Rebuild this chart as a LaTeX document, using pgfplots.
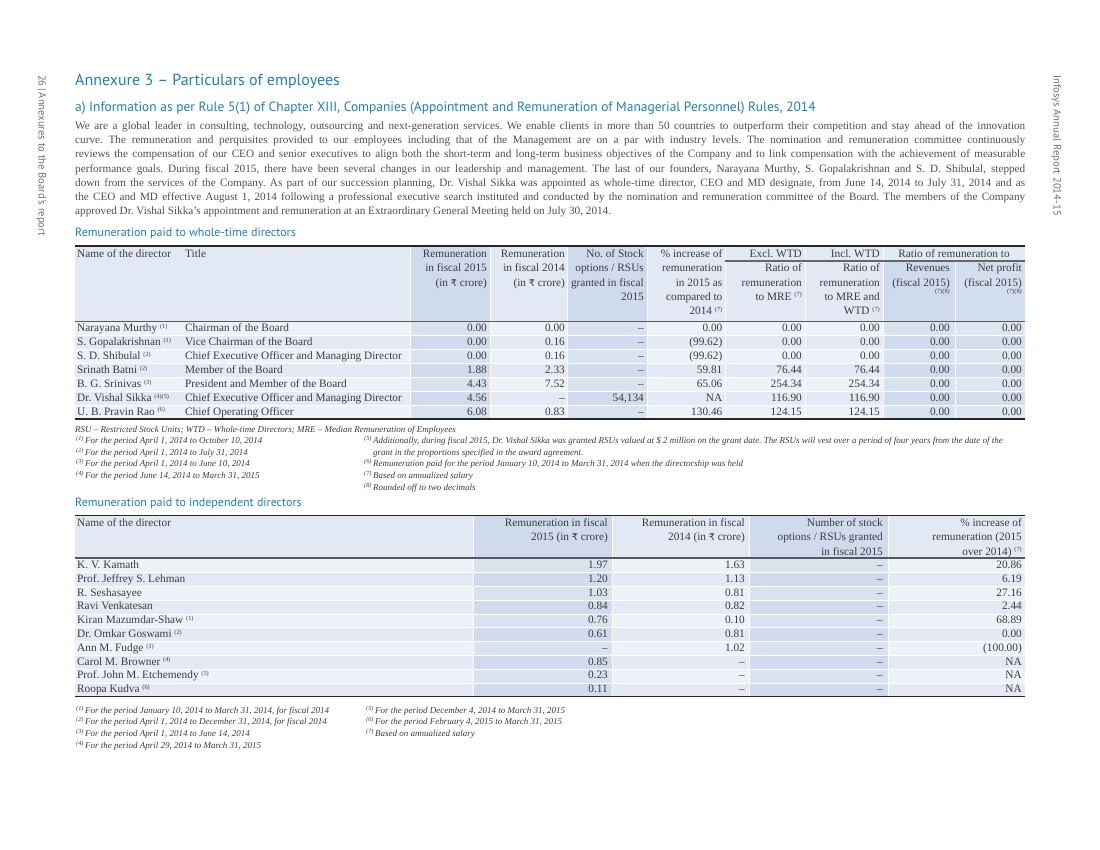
\documentclass[border=0pt]{standalone}
\usepackage{fontspec}
\setmainfont{Liberation Serif}
\newfontfamily\headfont{PT Sans}
\newfontfamily\rupeefont{DejaVu Sans}
\usepackage{pgfplots}
\usepackage{pgfplotstable}
\pgfplotsset{compat=1.18}
\frenchspacing
\definecolor{infblue}{HTML}{1A80C4}
\definecolor{bodytxt}{HTML}{505050}
\definecolor{tabtxt}{HTML}{3C3C3C}
\definecolor{sidetxt}{HTML}{707070}
\definecolor{hdrL}{HTML}{E2E9F4}
\definecolor{rowA}{HTML}{EDF2F9}
\definecolor{rowB}{HTML}{E3EAF5}
\definecolor{darkcol}{HTML}{2E5FA8}

\protected\def\fn#1{~{\fontsize{6.3}{6.3}\selectfont\raisebox{3.3pt}{(#1)}}}
\protected\def\mk#1{{\fontsize{6.3}{6.3}\selectfont\raisebox{3pt}{(#1)}}}
\protected\def\rupee{{\rupeefont\fontsize{9.6}{10}\selectfont ₹}}
\newcommand\tabfont{\fontsize{11.3}{13}\selectfont}
\newcommand\bodyfont{\fontsize{11.2}{13}\selectfont}
\newcommand\notefont{\fontsize{9}{11}\selectfont\itshape}

\pgfplotstableread[col sep=semicolon]{
y;name;title;ra;rb;st;inc;ex;inw;rev;net
331.8;Narayana Murthy\fn{1};Chairman of the Board;0.00;0.00;–;0.00;0.00;0.00;0.00;0.00
345.7;S. Gopalakrishnan\fn{1};Vice Chairman of the Board;0.00;0.16;–;(99.62);0.00;0.00;0.00;0.00
359.6;S. D. Shibulal\fn{2};Chief Executive Officer and Managing Director;0.00;0.16;–;(99.62);0.00;0.00;0.00;0.00
373.5;Srinath Batni\fn{2};Member of the Board;1.88;2.33;–;59.81;76.44;76.44;0.00;0.00
387.4;B. G. Srinivas\fn{3};President and Member of the Board;4.43;7.52;–;65.06;254.34;254.34;0.00;0.00
401.3;Dr. Vishal Sikka\fn{4)(5};Chief Executive Officer and Managing Director;4.56;–;54,134;NA;116.90;116.90;0.00;0.00
415.2;U. B. Pravin Rao\fn{6};Chief Operating Officer;6.08;0.83;–;130.46;124.15;124.15;0.00;0.00
}\tabA

\pgfplotstableread[col sep=semicolon]{
y;name;ra;rb;st;inc
568.5;K. V. Kamath;1.97;1.63;–;20.86
582.3;Prof. Jeffrey S. Lehman;1.20;1.13;–;6.19
596.1;R. Seshasayee;1.03;0.81;–;27.16
609.9;Ravi Venkatesan;0.84;0.82;–;2.44
623.7;Kiran Mazumdar-Shaw\fn{1};0.76;0.10;–;68.89
637.5;Dr. Omkar Goswami\fn{2};0.61;0.81;–;0.00
651.3;Ann M. Fudge\fn{3};–;1.02;–;(100.00)
665.1;Carol M. Browner\fn{4};0.85;–;–;NA
678.9;Prof. John M. Etchemendy\fn{5};0.23;–;–;NA
692.7;Roopa Kudva\fn{6};0.11;–;–;NA
}\tabB

\pgfplotsset{
  col/.style={only marks, mark=none, point meta=explicit symbolic,
    nodes near coords={\pgfplotspointmeta},
    nodes near coords align={anchor=#1},
    every node near coord/.append style={anchor=#1, inner sep=0pt, text=tabtxt, font=\tabfont}},
}
\tikzset{
  hd/.style={inner sep=0pt, text=tabtxt, font=\tabfont},
  nt/.style={inner sep=0pt, text=tabtxt, font=\notefont, anchor=base west},
}
\newcommand\hr[3]{\node[hd, anchor=base east] at (axis cs:#1,#2) {#3};}
\newcommand\hl[3]{\node[hd, anchor=base west] at (axis cs:#1,#2) {#3};}
\newcommand\rf[5]{\fill[#1] (axis cs:#2,#3) rectangle (axis cs:#4,#5);}
\newcommand\bl[2]{\node[anchor=base west, inner sep=0pt, text=bodytxt, font=\bodyfont] at (axis cs:75,#1) {#2};}

\begin{document}
\begin{tikzpicture}
\begin{axis}[
  scale only axis, width=1100pt, height=850pt,
  xmin=0, xmax=1100, ymin=0, ymax=850, y dir=reverse,
  hide axis, clip=false,
]
\fill[white] (axis cs:0,0) rectangle (axis cs:1100,850);

% ---------- side texts ----------
\node[rotate=-90, anchor=base west, inner sep=0pt, text=sidetxt, font=\headfont\fontsize{10.6}{12}\selectfont] at (axis cs:38.5,75) {26\,|\,Annexures to the Board's report};
\node[rotate=-90, anchor=base west, inner sep=0pt, text=sidetxt, font=\headfont\fontsize{10.6}{12}\selectfont] at (axis cs:1053.5,75) {Infosys Annual Report 2014-15};

% ---------- headings ----------
\node[anchor=base west, inner sep=0pt, text=infblue, font=\headfont\fontsize{16}{18}\selectfont] at (axis cs:75,86) {Annexure 3 – Particulars of employees};
\node[anchor=base west, inner sep=0pt, text=infblue, font=\headfont\fontsize{13.45}{15}\selectfont] at (axis cs:75,112) {a) Information as per Rule 5(1) of Chapter XIII, Companies (Appointment and Remuneration of Managerial Personnel) Rules, 2014};

\bl{129.5}{\makebox[950pt][s]{We are a global leader in consulting, technology, outsourcing and next-generation services. We enable clients in more than 50 countries to outperform their competition and stay ahead of the innovation}}
\bl{143.7}{\makebox[950pt][s]{curve. The remuneration and perquisites provided to our employees including that of the Management are on a par with industry levels. The nomination and remuneration committee continuously}}
\bl{157.9}{\makebox[950pt][s]{reviews the compensation of our CEO and senior executives to align both the short-term and long-term business objectives of the Company and to link compensation with the achievement of measurable}}
\bl{172.1}{\makebox[950pt][s]{performance goals. During fiscal 2015, there have been several changes in our leadership and management. The last of our founders, Narayana Murthy, S. Gopalakrishnan and S. D. Shibulal, stepped}}
\bl{186.3}{\makebox[950pt][s]{down from the services of the Company. As part of our succession planning, Dr. Vishal Sikka was appointed as whole-time director, CEO and MD designate, from June 14, 2014 to July 31, 2014 and as}}
\bl{200.5}{\makebox[950pt][s]{the CEO and MD effective August 1, 2014 following a professional executive search instituted and conducted by the nomination and remuneration committee of the Board. The members of the Company}}
\bl{214.7}{approved Dr. Vishal Sikka's appointment and remuneration at an Extraordinary General Meeting held on July 30, 2014.}

\node[anchor=base west, inner sep=0pt, text=infblue, font=\headfont\fontsize{12}{14}\selectfont] at (axis cs:75,237) {Remuneration paid to whole-time directors};

% ---------- table 1 backgrounds ----------
\rf{hdrL}{75}{246}{1025}{321.5}
\rf{rowA}{75}{321.5}{1025}{335.4}
\rf{rowB}{75}{335.4}{1025}{349.3}
\rf{rowA}{75}{349.3}{1025}{363.2}
\rf{rowB}{75}{363.2}{1025}{377.1}
\rf{rowA}{75}{377.1}{1025}{391.0}
\rf{rowB}{75}{391.0}{1025}{404.9}
\rf{rowA}{75}{404.9}{1025}{418.8}
\rf{darkcol, fill opacity=0.10}{410}{246}{490}{418.8}
\rf{darkcol, fill opacity=0.10}{567}{246}{647}{418.8}
\rf{darkcol, fill opacity=0.10}{883}{262}{955}{418.8}
\rf{darkcol, fill opacity=0.08}{955}{262}{1025}{418.8}
\pgfplotsinvokeforeach{410,490,567,647,725,805,883,955}{\draw[white, line width=0.9pt] (axis cs:#1,247) -- (axis cs:#1,418);}
\pgfplotsinvokeforeach{335.4,349.3,363.2,377.1,391.0,404.9}{\draw[white, line width=0.8pt] (axis cs:75,#1) -- (axis cs:1025,#1);}
\draw[black!85, line width=1.4pt] (axis cs:75,246) -- (axis cs:1025,246);
\draw[black!60, line width=1.1pt] (axis cs:725,261) -- (axis cs:1025,261);
\draw[black!65, line width=1.9pt] (axis cs:75,321.5) -- (axis cs:1025,321.5);
\draw[black!85, line width=1.5pt] (axis cs:75,418.8) -- (axis cs:1025,418.8);

% ---------- table 1 header ----------
\hl{77}{257.5}{Name of the director}
\hl{185}{257.5}{Title}
\hr{487}{257.5}{Remuneration}\hr{487}{271.8}{in fiscal 2015}\hr{487}{286.2}{(in \rupee\ crore)}
\hr{565}{257.5}{Remuneration}\hr{565}{271.8}{in fiscal 2014}\hr{565}{286.2}{(in \rupee\ crore)}
\hr{644}{257.5}{No. of Stock}\hr{644}{271.8}{options / RSUs}\hr{644}{286.2}{granted in fiscal}\hr{644}{300.2}{2015}
\hr{722.5}{257.5}{\% increase of}\hr{722.5}{271.8}{remuneration}\hr{722.5}{286.2}{in 2015 as}\hr{722.5}{300.2}{compared to}\hr{722.5}{314.5}{2014\fn{7}}
\hr{802}{257.5}{Excl. WTD}\hr{802}{271.8}{Ratio of}\hr{802}{286.2}{remuneration}\hr{802}{300.2}{to MRE\fn{7}}
\hr{880}{257.5}{Incl. WTD}\hr{880}{271.8}{Ratio of}\hr{880}{286.2}{remuneration}\hr{880}{300.2}{to MRE and}\hr{880}{314.5}{WTD\fn{7}}
\node[hd, anchor=base] at (axis cs:954,257.5) {Ratio of remuneration to};
\hr{950}{271.8}{Revenues}\hr{950}{286.2}{(fiscal 2015)}\hr{950}{296.5}{\mk{7)(8}}
\hr{1022}{271.8}{Net profit}\hr{1022}{286.2}{(fiscal 2015)}\hr{1022}{296.5}{\mk{7)(8}}

% ---------- table 1 data ----------
\addplot[col=base west] table[x expr=77, y=y, meta=name] {\tabA};
\addplot[col=base west] table[x expr=185, y=y, meta=title] {\tabA};
\addplot[col=base east] table[x expr=487, y=y, meta=ra] {\tabA};
\addplot[col=base east] table[x expr=565, y=y, meta=rb] {\tabA};
\addplot[col=base east] table[x expr=644, y=y, meta=st] {\tabA};
\addplot[col=base east] table[x expr=722.5, y=y, meta=inc] {\tabA};
\addplot[col=base east] table[x expr=802, y=y, meta=ex] {\tabA};
\addplot[col=base east] table[x expr=880, y=y, meta=inw] {\tabA};
\addplot[col=base east] table[x expr=950, y=y, meta=rev] {\tabA};
\addplot[col=base east] table[x expr=1022, y=y, meta=net] {\tabA};

% ---------- table 1 notes ----------
\node[nt] at (axis cs:75,432) {RSU – Restricted Stock Units; WTD – Whole-time Directors; MRE – Median Remuneration of Employees};
\node[nt] at (axis cs:76,443.5) {\mk{1}}; \node[nt] at (axis cs:85,443.5) {For the period April 1, 2014 to October 10, 2014};
\node[nt] at (axis cs:76,455.2) {\mk{2}}; \node[nt] at (axis cs:85,455.2) {For the period April 1, 2014 to July 31, 2014};
\node[nt] at (axis cs:76,466.9) {\mk{3}}; \node[nt] at (axis cs:85,466.9) {For the period April 1, 2014 to June 10, 2014};
\node[nt] at (axis cs:76,478.6) {\mk{4}}; \node[nt] at (axis cs:85,478.6) {For the period June 14, 2014 to March 31, 2015};
\node[nt] at (axis cs:364,443.5) {\mk{5}}; \node[nt] at (axis cs:373,443.5) {Additionally, during fiscal 2015, Dr. Vishal Sikka was granted RSUs valued at \$ 2 million on the grant date. The RSUs will vest over a period of four years from the date of the};
\node[nt] at (axis cs:373,455.2) {grant in the proportions specified in the award agreement.};
\node[nt] at (axis cs:364,466.9) {\mk{6}}; \node[nt] at (axis cs:373,466.9) {Remuneration paid for the period January 10, 2014 to March 31, 2014 when the directorship was held};
\node[nt] at (axis cs:364,478.6) {\mk{7}}; \node[nt] at (axis cs:373,478.6) {Based on annualized salary};
\node[nt] at (axis cs:364,490.3) {\mk{8}}; \node[nt] at (axis cs:373,490.3) {Rounded off to two decimals};

\node[anchor=base west, inner sep=0pt, text=infblue, font=\headfont\fontsize{12}{14}\selectfont] at (axis cs:75,506) {Remuneration paid to independent directors};

% ---------- table 2 backgrounds ----------
\rf{hdrL}{75}{515.7}{1025}{557.7}
\rf{rowA}{75}{557.7}{1025}{572.5}
\rf{rowB}{75}{572.5}{1025}{586.3}
\rf{rowA}{75}{586.3}{1025}{600.1}
\rf{rowB}{75}{600.1}{1025}{613.9}
\rf{rowA}{75}{613.9}{1025}{627.7}
\rf{rowB}{75}{627.7}{1025}{641.5}
\rf{rowA}{75}{641.5}{1025}{655.3}
\rf{rowB}{75}{655.3}{1025}{669.1}
\rf{rowA}{75}{669.1}{1025}{682.9}
\rf{rowB}{75}{682.9}{1025}{696.7}
\rf{darkcol, fill opacity=0.10}{473}{515.7}{612}{696.7}
\rf{darkcol, fill opacity=0.10}{749}{515.7}{888}{696.7}
\pgfplotsinvokeforeach{473,612,749,888}{\draw[white, line width=0.9pt] (axis cs:#1,516.5) -- (axis cs:#1,696);}
\pgfplotsinvokeforeach{572.5,586.3,600.1,613.9,627.7,641.5,655.3,669.1,682.9}{\draw[white, line width=0.8pt] (axis cs:75,#1) -- (axis cs:1025,#1);}
\draw[black!85, line width=1.4pt] (axis cs:75,515.7) -- (axis cs:1025,515.7);
\draw[black!65, line width=1.9pt] (axis cs:75,557.7) -- (axis cs:1025,557.7);
\draw[black!85, line width=1.5pt] (axis cs:75,696.7) -- (axis cs:1025,696.7);

% ---------- table 2 header ----------
\hl{77}{526.8}{Name of the director}
\hr{608}{526.8}{Remuneration in fiscal}\hr{608}{540.8}{2015 (in \rupee\ crore)}
\hr{745}{526.8}{Remuneration in fiscal}\hr{745}{540.8}{2014 (in \rupee\ crore)}
\hr{883}{526.8}{Number of stock}\hr{883}{540.8}{options / RSUs granted}\hr{883}{555}{in fiscal 2015}
\hr{1022}{526.8}{\% increase of}\hr{1022}{540.8}{remuneration (2015}\hr{1022}{555}{over 2014)\fn{7}}

% ---------- table 2 data ----------
\addplot[col=base west] table[x expr=77, y=y, meta=name] {\tabB};
\addplot[col=base east] table[x expr=608, y=y, meta=ra] {\tabB};
\addplot[col=base east] table[x expr=745, y=y, meta=rb] {\tabB};
\addplot[col=base east] table[x expr=883, y=y, meta=st] {\tabB};
\addplot[col=base east] table[x expr=1022, y=y, meta=inc] {\tabB};

% ---------- table 2 notes ----------
\node[nt] at (axis cs:76,713) {\mk{1}}; \node[nt] at (axis cs:85,713) {For the period January 10, 2014 to March 31, 2014, for fiscal 2014};
\node[nt] at (axis cs:76,724.8) {\mk{2}}; \node[nt] at (axis cs:85,724.8) {For the period April 1, 2014 to December 31, 2014, for fiscal 2014};
\node[nt] at (axis cs:76,736.6) {\mk{3}}; \node[nt] at (axis cs:85,736.6) {For the period April 1, 2014 to June 14, 2014};
\node[nt] at (axis cs:76,748.4) {\mk{4}}; \node[nt] at (axis cs:85,748.4) {For the period April 29, 2014 to March 31, 2015};
\node[nt] at (axis cs:366,713) {\mk{5}}; \node[nt] at (axis cs:375,713) {For the period December 4, 2014 to March 31, 2015};
\node[nt] at (axis cs:366,724.8) {\mk{6}}; \node[nt] at (axis cs:375,724.8) {For the period February 4, 2015 to March 31, 2015};
\node[nt] at (axis cs:366,736.6) {\mk{7}}; \node[nt] at (axis cs:375,736.6) {Based on annualized salary};

\path (axis cs:0,0) rectangle (axis cs:1100,850);
\end{axis}
\end{tikzpicture}
\end{document}
